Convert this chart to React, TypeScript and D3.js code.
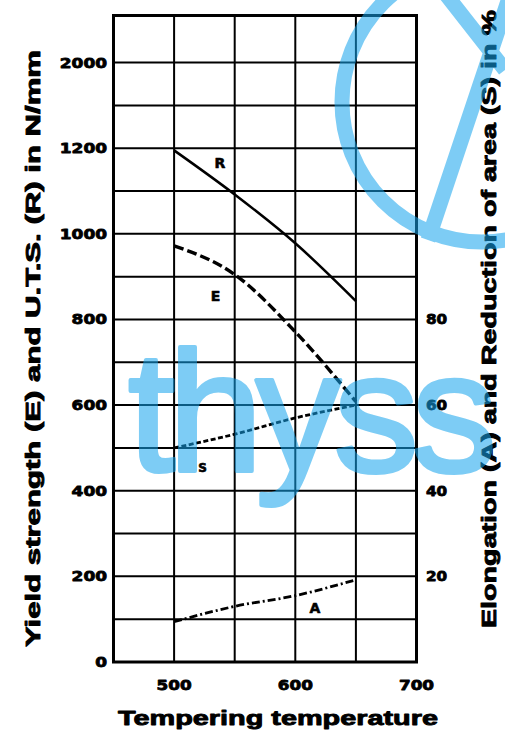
import React, { useEffect, useRef } from "react";
import * as d3 from "d3";

// tempering temperature (°C)
const temps = [500, 550, 600, 650];
// U.T.S. R and yield strength E in N/mm²
const rValues = [1195, 1092, 978, 843];
const eValues = [972, 905, 771, 608];
// reduction of area S and elongation A in %
const sValues = [50, 53.2, 57, 60];
const aValues = [9.4, 13, 15.5, 19.2];

const leftTicks = [0, 200, 400, 600, 800, 1000, 1200, 1400];
const leftTickLabels = ["0", "200", "400", "600", "800", "1000", "1200", "2000"];
const rightTicks = [20, 40, 60, 80];
const bottomTicks = [500, 600, 700];
const gridX = [500, 550, 600, 650];
const gridY = [100, 200, 300, 400, 500, 600, 700, 800, 900, 1000, 1100, 1200, 1300, 1400];

const W = 505, H = 735;
const FONT = "'Liberation Sans', Arial, sans-serif";

const App = () => {
  const ref = useRef<SVGSVGElement>(null);

  useEffect(() => {
    const svg = d3.select(ref.current);
    svg.selectAll("*").remove();

    const x = d3.scaleLinear().domain([450, 700]).range([113.5, 416.5]);
    const y = d3.scaleLinear().domain([0, 1510]).range([662, 15.5]);
    const yPct = (v: number) => y(v * 10);

    svg.append("rect").attr("width", W).attr("height", H).attr("fill", "#fff");

    // grid
    const g = svg.append("g").attr("stroke", "#000").attr("stroke-width", 2);
    gridX.forEach(v => {
      g.append("line").attr("x1", x(v)).attr("x2", x(v)).attr("y1", y.range()[1]).attr("y2", y.range()[0]);
    });
    gridY.forEach(v => {
      g.append("line").attr("x1", x.range()[0]).attr("x2", x.range()[1]).attr("y1", y(v)).attr("y2", y(v));
    });
    svg.append("rect")
      .attr("x", x.range()[0]).attr("y", y.range()[1])
      .attr("width", x.range()[1] - x.range()[0])
      .attr("height", y.range()[0] - y.range()[1])
      .attr("fill", "none").attr("stroke", "#000").attr("stroke-width", 3);

    // curves
    const line = (fy: (v: number) => number) =>
      d3.line<number>()
        .x((d, i) => x(temps[i]))
        .y(d => fy(d))
        .curve(d3.curveMonotoneX);

    const curves = [
      { vals: rValues, fy: y, dash: null, w: 2.5 },
      { vals: eValues, fy: y, dash: "10,4", w: 3.4 },
      { vals: sValues, fy: yPct, dash: "5,2.5", w: 2.8 },
      { vals: aValues, fy: yPct, dash: "8,3,2,3", w: 2.8 },
    ];
    curves.forEach(c => {
      svg.append("path")
        .datum(c.vals)
        .attr("fill", "none")
        .attr("stroke", "#000")
        .attr("stroke-width", c.w)
        .attr("stroke-dasharray", c.dash)
        .attr("d", line(c.fy));
    });

    const heavy = (sel: any, w: number) =>
      sel.attr("stroke", "#000").attr("stroke-width", w).attr("stroke-linejoin", "round");

    // curve labels
    const curveLabels = [
      { t: "R", x: 220, y: 163, s: 14 },
      { t: "E", x: 215.5, y: 296, s: 14 },
      { t: "S", x: 202.5, y: 468, s: 12 },
      { t: "A", x: 315, y: 608, s: 14 },
    ];
    curveLabels.forEach(l => {
      heavy(svg.append("text")
        .attr("x", l.x).attr("y", l.y)
        .attr("text-anchor", "middle").attr("dominant-baseline", "central")
        .attr("font-family", "'DejaVu Sans', sans-serif").attr("font-weight", "bold")
        .attr("font-size", l.s)
        .text(l.t), 0.6);
    });

    const tick = (t: string, px: number, py: number, anchor: string, per: number) =>
      heavy(svg.append("text")
        .attr("x", px).attr("y", py)
        .attr("text-anchor", anchor).attr("dominant-baseline", "central")
        .attr("font-family", "'DejaVu Sans', sans-serif").attr("font-weight", "bold")
        .attr("font-size", 14)
        .attr("textLength", t.length * per)
        .attr("lengthAdjust", "spacingAndGlyphs")
        .text(t), 0.8);

    leftTicks.forEach((v, i) => tick(leftTickLabels[i], 107, y(v), "end", 11.8));
    rightTicks.forEach(v => tick(String(v), 426, yPct(v), "start", 10.6));
    bottomTicks.forEach(v => tick(String(v), x(v), 685, "middle", 11.7));

    // axis titles
    const title = (t: string, px: number, py: number, rot: number, len: number) =>
      heavy(svg.append("text")
        .attr("transform", `translate(${px},${py}) rotate(${rot})`)
        .attr("text-anchor", "middle")
        .attr("font-family", FONT).attr("font-weight", "bold")
        .attr("font-size", 21)
        .attr("textLength", len)
        .attr("lengthAdjust", "spacingAndGlyphs")
        .text(t), 0.9);

    title("Tempering temperature", 278, 725, 0, 320);
    title("Yield strength (E) and U.T.S. (R) in N/mm", 39.5, 348.5, -90, 597);
    title("Elongation (A) and Reduction of area (S) in %", 496, 319, -90, 618);

    // watermark
    const wm = svg.append("g").attr("opacity", 0.55).attr("pointer-events", "none");
    const blue = "rgb(20,164,237)";
    wm.append("text")
      .attr("x", 128).attr("y", 471)
      .attr("font-family", FONT).attr("font-size", 170)
      .attr("letter-spacing", -7)
      .attr("fill", blue)
      .attr("stroke", blue).attr("stroke-width", 4).attr("stroke-linejoin", "round")
      .text("thyss");
    wm.append("circle")
      .attr("cx", 482).attr("cy", 102).attr("r", 140)
      .attr("fill", "none").attr("stroke", blue).attr("stroke-width", 15);
    wm.append("path")
      .attr("d", "M428,240 L515,-20 M444,-8 L505,70")
      .attr("fill", "none").attr("stroke", blue).attr("stroke-width", 15);
  }, []);

  return (
    <svg ref={ref} width={W} height={H} style={{ position: "absolute", left: 0, top: 0 }} />
  );
};

export default App;
